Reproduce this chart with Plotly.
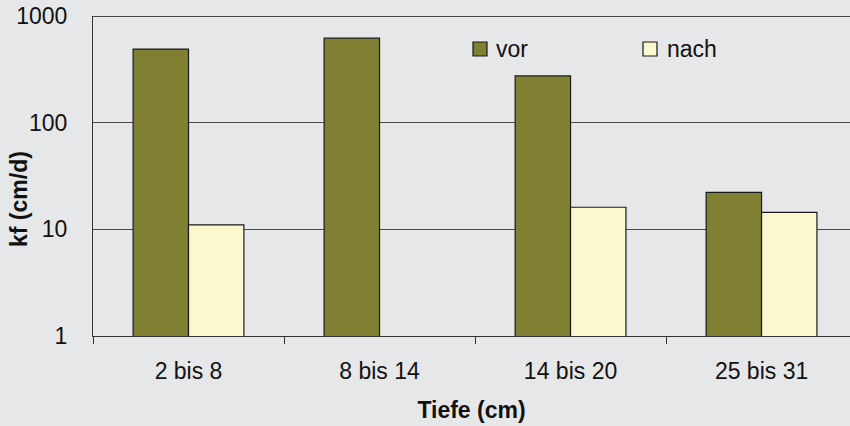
import plotly.graph_objects as go

# Depth intervals and saturated hydraulic conductivity kf (cm/d)
categories = ["2 bis 8", "8 bis 14", "14 bis 20", "25 bis 31"]
kf_vor = [490, 620, 274, 22.2]
kf_nach = [11, None, 16.1, 14.4]

series_names = ["vor", "nach"]
series_colors = ["#808033", "#fbf8cf"]

BG = "#e6e7e9"
FONT = "Liberation Sans, Arial, sans-serif"
W, H = 850, 426
ML, MR, MT, MB = 93, 0, 16, 90


def px_to_paper(px, py):
    """Convert a pixel position on the page to plot-area paper coordinates."""
    pw = W - ML - MR
    ph = H - MT - MB
    return (px - ML) / pw, (H - MB - py) / ph


fig = go.Figure()
for name, vals, col in zip(series_names, [kf_vor, kf_nach], series_colors):
    fig.add_trace(go.Bar(
        x=categories, y=vals, name=name,
        marker=dict(color=col, line=dict(color="#1a1a1a", width=1.2)),
    ))

fig.update_layout(
    width=W, height=H,
    margin=dict(l=ML, r=MR, t=MT, b=MB, autoexpand=False),
    paper_bgcolor=BG, plot_bgcolor=BG,
    font=dict(family=FONT, size=23, color="#111111"),
    barmode="group", bargap=0.42, bargroupgap=0,
    showlegend=False,
    xaxis=dict(
        type="category", range=[-0.5, 3.463],
        showline=True, linecolor="#333333", linewidth=1,
        ticks="outside", tickson="boundaries", ticklen=7, tickcolor="#333333",
        showgrid=False,
        title=dict(text="<b>Tiefe (cm)</b>", font=dict(size=23), standoff=19),
        ticklabelstandoff=14,
    ),
    yaxis=dict(
        type="log", range=[0, 3],
        tickvals=[1, 10, 100, 1000], ticktext=["1", "10", "100", "1000"],
        showline=True, linecolor="#333333", linewidth=1,
        showgrid=True, gridcolor="#4a4a4a", gridwidth=1,
        ticks="", ticklabelstandoff=20,
    ),
)

# y axis title, rotated
tx, ty = px_to_paper(19, 199)
fig.add_annotation(xref="paper", yref="paper", x=tx, y=ty, text="<b>kf (cm/d)</b>",
                   textangle=-90, showarrow=False, xanchor="center", yanchor="middle",
                   font=dict(size=23, color="#111111"))

# top gridline at the 1000 level
fig.add_shape(type="line", xref="paper", yref="y", x0=0, x1=1, y0=1000, y1=1000,
              line=dict(color="#444444", width=2))

# legend: small framed squares with labels
for (sx, lx), name, col in zip([(473, 494), (643, 665)], series_names, series_colors):
    x0, y0 = px_to_paper(sx, 56)
    x1, y1 = px_to_paper(sx + 14, 42)
    fig.add_shape(type="rect", xref="paper", yref="paper", x0=x0, x1=x1, y0=y0, y1=y1,
                  fillcolor=col, line=dict(color="#1a1a1a", width=1.2))
    ax, ay = px_to_paper(lx, 49)
    fig.add_annotation(xref="paper", yref="paper", x=ax, y=ay, text=name,
                       showarrow=False, xanchor="left", yanchor="middle",
                       font=dict(size=23, color="#111111"))

fig.write_html("out.html")
